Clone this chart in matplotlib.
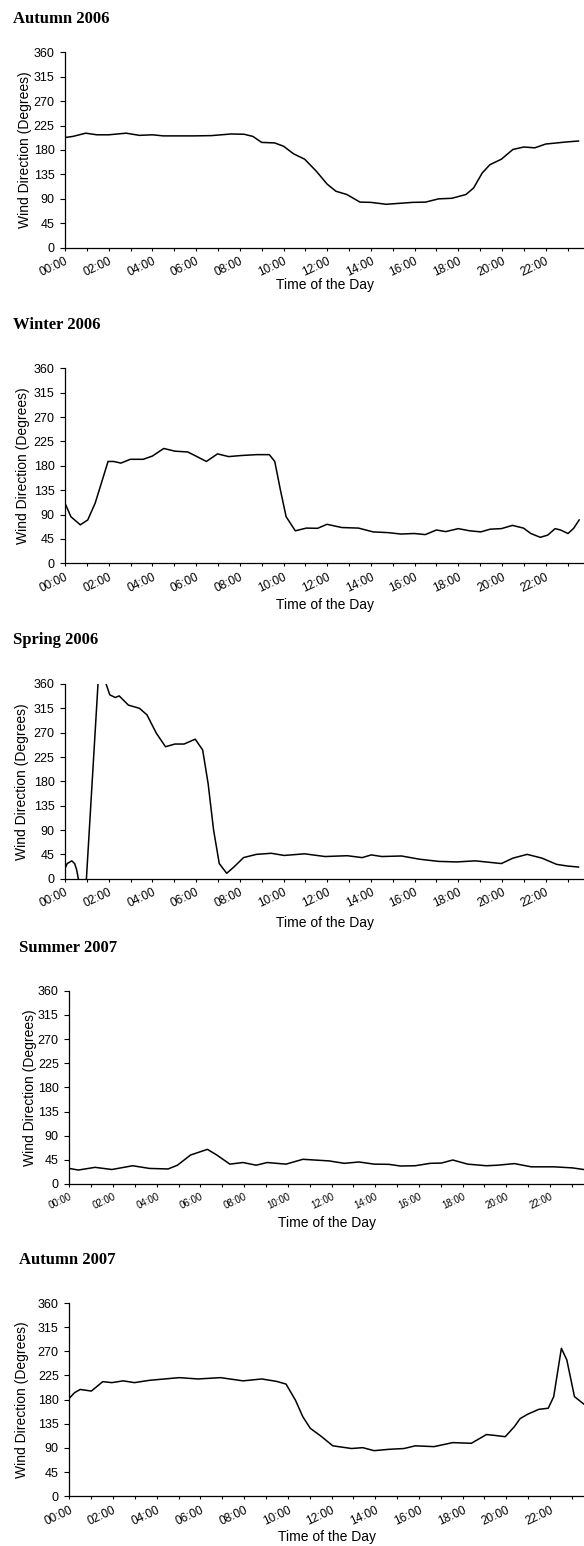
import matplotlib
matplotlib.use("Agg")
import matplotlib.pyplot as plt
from matplotlib.ticker import MultipleLocator, FuncFormatter

plt.rcParams['font.family'] = ['Liberation Sans', 'DejaVu Sans']

# hours of day and mean wind direction (degrees)
autumn06_hours = [0, 0.36, 0.95, 1.46, 2.0, 2.8, 3.4, 4.0, 4.5, 5.9, 6.7, 7.6, 8.2, 8.6,
                  9.0, 9.6, 10.0, 10.46, 10.97, 11.5, 12.0, 12.4, 12.9, 13.5, 14.0, 14.7,
                  15.4, 15.9, 16.5, 17.1, 17.7, 18.35, 18.7, 19.1, 19.45, 19.97, 20.5,
                  21.0, 21.5, 22.0, 22.5, 23.0, 23.5]
autumn06_deg = [203, 205, 211, 208, 208, 211, 207, 208, 206, 206, 206.5, 209.5, 209, 205,
                194, 193, 187, 173, 163, 141, 117, 104, 98, 84, 83.5, 80,
                82, 83.5, 84, 90, 91, 98, 110, 138, 153, 163, 181,
                185.5, 184, 191, 193, 195, 196.5]

winter06_hours = [0, 0.27, 0.7, 1.04, 1.38, 1.71, 1.97, 2.22, 2.56, 2.99, 3.58, 4.0, 4.52,
                  5.03, 5.62, 6.04, 6.47, 6.98, 7.49, 8.08, 8.76, 9.35, 9.6, 9.86, 10.12,
                  10.54, 11.05, 11.56, 11.99, 12.67, 13.43, 14.1, 14.79, 15.38, 15.98,
                  16.49, 17.0, 17.42, 18.0, 18.52, 19.03, 19.46, 19.97, 20.48, 20.98,
                  21.32, 21.75, 22.09, 22.43, 22.68, 23.02, 23.28, 23.53]
winter06_deg = [111, 86, 71, 80, 111, 154, 188, 188, 185, 192, 192, 198, 212,
                207, 205.5, 197, 188, 202, 197, 199, 200.6, 200.6, 188, 135, 86,
                60, 65, 64.6, 72, 66, 65, 58, 56.6, 54, 55,
                53, 61.5, 58.5, 64, 60, 58, 63, 64, 70, 65,
                55, 48, 52, 64, 61.5, 55, 64.6, 80]

spring06_hours = [0, 0.1, 0.31, 0.44, 0.53, 0.61, 0.8, 0.98, 1.51, 1.7, 1.88, 2.05, 2.3,
                  2.48, 2.9, 3.41, 3.75, 4.18, 4.6, 5.03, 5.45, 5.96, 6.3, 6.55, 6.8,
                  7.06, 7.4, 7.74, 8.17, 8.76, 9.44, 10.03, 10.97, 11.9, 12.92, 13.6,
                  14.02, 14.5, 15.4, 16.23, 17.1, 17.93, 18.78, 19.97, 20.5, 21.15,
                  21.83, 22.5, 23.0, 23.5]
spring06_deg = [19, 28, 33, 28, 17, 0, -45, 0, 360, 400, 360, 340, 335,
                338, 321, 315, 303, 269, 244, 249, 249, 258, 238, 176, 90,
                28, 10, 22, 39, 45, 47, 43, 46, 41, 42.5, 39,
                44, 41, 42, 36, 32, 31, 33, 28, 38, 45,
                38, 26.5, 23.4, 21.6]

summer07_hours = [0, 0.41, 1.18, 1.95, 2.9, 3.67, 4.52, 4.95, 5.55, 6.32, 6.75, 7.35,
                  7.95, 8.55, 9.06, 9.92, 10.69, 11.89, 12.58, 13.26, 13.95, 14.63,
                  15.15, 15.83, 16.52, 17.03, 17.55, 18.23, 19.09, 19.6, 20.37, 21.14,
                  22.17, 23.03, 23.54]
summer07_deg = [29, 26, 31, 27, 34, 29, 28, 35, 54, 64.5, 54, 37,
                40, 35, 40, 37, 46, 43, 38.5, 41, 37, 36.6,
                33.5, 34, 38.5, 39, 44.7, 37, 34, 35, 38, 32,
                32, 30, 27]

autumn07_hours = [0, 0.24, 0.5, 1.01, 1.53, 1.95, 2.47, 2.98, 3.67, 4.35, 5.04, 5.89,
                  6.92, 7.95, 8.81, 9.49, 9.92, 10.35, 10.69, 11.03, 11.55, 12.06,
                  12.92, 13.43, 13.95, 14.63, 15.32, 15.83, 16.69, 17.55, 18.4, 19.09,
                  19.43, 19.95, 20.37, 20.63, 20.97, 21.49, 21.92, 22.17, 22.52, 22.77,
                  23.12, 23.54]
autumn07_deg = [182.5, 193, 199, 196, 213.5, 211.7, 215, 211.7, 216, 218.5, 221, 218.5,
                221, 215, 218.5, 214, 209, 179, 148, 126.6, 111, 94,
                89, 90.6, 85, 87.5, 89, 94, 92.5, 100, 98.7, 115,
                113.6, 111, 129.7, 144.6, 152.7, 162, 164, 185.6, 275.6, 254,
                185.6, 172]

titles = ["Autumn 2006", "Winter 2006", "Spring 2006", "Summer 2007", "Autumn 2007"]
series = [(autumn06_hours, autumn06_deg), (winter06_hours, winter06_deg),
          (spring06_hours, spring06_deg), (summer07_hours, summer07_deg),
          (autumn07_hours, autumn07_deg)]

# pixel layout: axes left, top, bottom; title x, baseline; ylabel x; xlabel y; tick size
layout = [
    dict(left=65, top=52.3, bottom=247.7, tx=13, ty=23.3, ylab=25, xlab=285, tfs=8.5),
    dict(left=65, top=368.3, bottom=563.3, tx=13, ty=329.3, ylab=23, xlab=605, tfs=8.5),
    dict(left=65, top=684, bottom=878.7, tx=13, ty=644, ylab=22.3, xlab=922.7, tfs=8.5),
    dict(left=69.3, top=990.7, bottom=1184, tx=18.6, ty=952.3, ylab=29.8, xlab=1222.7, tfs=7),
    dict(left=69.3, top=1303, bottom=1496.3, tx=18.6, ty=1264, ylab=22.3, xlab=1537.3, tfs=8.5),
]

W, H = 584, 1546
fig = plt.figure(figsize=(W / 100, H / 100), dpi=100)

for title, (hrs, deg), lay in zip(titles, series, layout):
    l, t, b = lay['left'], lay['top'], lay['bottom']
    ax = fig.add_axes([l / W, 1 - b / H, (W - l) / W, (b - t) / H])
    ax.plot(hrs, deg, color='black', lw=1.1)
    ax.set_xlim(0, (W - l) / (43.7 / 2))
    ax.set_ylim(0, 360)
    ax.yaxis.set_major_locator(MultipleLocator(45))
    ax.xaxis.set_major_locator(MultipleLocator(2))
    ax.xaxis.set_minor_locator(MultipleLocator(1))
    ax.xaxis.set_major_formatter(FuncFormatter(lambda v, p: "%02d:00" % int(round(v))))
    for s in ['top', 'right']:
        ax.spines[s].set_visible(False)
    for s in ['left', 'bottom']:
        ax.spines[s].set_linewidth(0.9)
    ax.tick_params(axis='y', length=3.6, width=0.8, labelsize=9, pad=4)
    ax.tick_params(axis='x', which='both', length=2.5, width=0.8, labelsize=lay['tfs'], pad=3)
    for lab in ax.get_xticklabels():
        lab.set_rotation(25)
        lab.set_ha('right')
        lab.set_rotation_mode('anchor')
    ax.set_ylabel("Wind Direction (Degrees)", fontsize=10, va='center')
    ax.yaxis.set_label_coords((lay['ylab'] - l) / (W - l), 0.5)
    ax.set_xlabel("Time of the Day", fontsize=10, va='center')
    ax.xaxis.set_label_coords(0.5, (b - lay['xlab']) / (b - t))
    fig.text(lay['tx'] / W, 1 - lay['ty'] / H, title, family='Liberation Serif',
             weight='bold', fontsize=12, va='baseline')

fig.savefig("out.png", dpi=100)
